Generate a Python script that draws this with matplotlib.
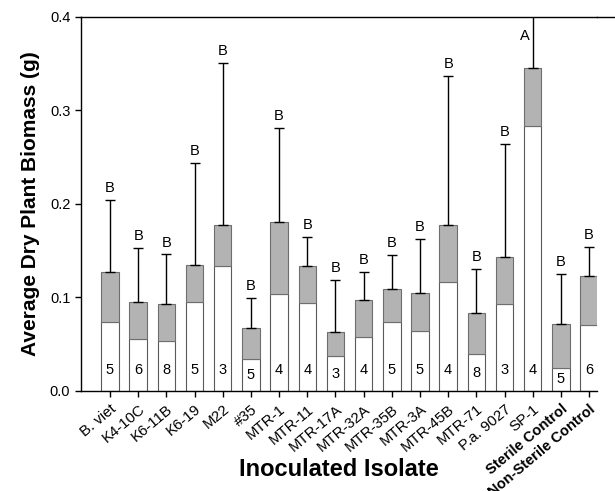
import numpy as np
import matplotlib
matplotlib.use('Agg')
import matplotlib.pyplot as plt
from matplotlib.transforms import ScaledTranslation

plt.rcParams['font.family'] = ['Liberation Sans', 'DejaVu Sans']

isolates = ['B. viet', 'K4-10C', 'K6-11B', 'K6-19', 'M22', '#35', 'MTR-1', 'MTR-11',
            'MTR-17A', 'MTR-32A', 'MTR-35B', 'MTR-3A', 'MTR-45B', 'MTR-71', 'P.a. 9027',
            'SP-1', 'Sterile Control', 'Non-Sterile Control']
# lower (white) part of bar and the full bar height
lower = [0.0735, 0.0553, 0.0538, 0.0949, 0.1333, 0.0342, 0.104, 0.0941,
         0.0371, 0.0574, 0.0734, 0.0638, 0.1162, 0.0392, 0.0927,
         0.2834, 0.0249, 0.0706]
total = [0.127, 0.0949, 0.0927, 0.1348, 0.1775, 0.067, 0.1804, 0.134,
         0.0634, 0.0977, 0.1094, 0.1045, 0.1772, 0.0831, 0.143,
         0.3451, 0.0717, 0.123]
err_top = [0.204, 0.1526, 0.146, 0.2435, 0.351, 0.0998, 0.2816, 0.1647,
           0.119, 0.1273, 0.1455, 0.1622, 0.3365, 0.1308, 0.2638,
           0.46, 0.1255, 0.1537]
letters = ['B'] * 15 + ['A', 'B', 'B']
counts = [5, 6, 8, 5, 3, 5, 4, 4, 3, 4, 5, 5, 4, 8, 3, 4, 5, 6]
bold_labels = ['Sterile Control', 'Non-Sterile Control']

lower = np.array(lower)
total = np.array(total)
err_top = np.array(err_top)
x = np.arange(len(isolates))
ymax = 0.4

fig = plt.figure(figsize=(6.15, 4.91), dpi=100)
ax = fig.add_axes([0.1312, 0.2037, 0.8395, 0.7617])

ax.bar(x, lower, width=0.62, color='white', edgecolor='#5a5a5a', linewidth=0.8, zorder=2)
ax.bar(x, total - lower, bottom=lower, width=0.62, color='#b3b3b3',
       edgecolor='#6e6e6e', linewidth=0.8, zorder=2)
ax.errorbar(x, total, yerr=[np.zeros_like(total), err_top - total], fmt='none',
            ecolor='black', elinewidth=1.0, capsize=3.3, capthick=1.0, zorder=3)

for i in range(len(x)):
    if err_top[i] < ymax:
        ax.annotate(letters[i], (x[i], err_top[i]), xytext=(0, 3.5), textcoords='offset points',
                    ha='center', va='bottom', fontsize=10.5)
    else:
        ax.annotate(letters[i], (x[i], ymax), xytext=(-6, -14), textcoords='offset points',
                    ha='center', va='center', fontsize=10.5)
    ax.text(x[i], min(0.022, lower[i] / 2), str(counts[i]), ha='center', va='center',
            fontsize=10.5, zorder=4)

ax.set_xlim(-1.04, 17.28)
ax.set_ylim(0, ymax)
ax.set_yticks([0.0, 0.1, 0.2, 0.3, 0.4])
ax.set_yticklabels(['0.0', '0.1', '0.2', '0.3', '0.4'], fontsize=10.5)
ax.set_xticks(x)
ax.set_xticklabels(isolates, rotation=40, ha='right', rotation_mode='anchor', fontsize=10.8)
shift = ScaledTranslation(6 / 100, 1 / 100, fig.dpi_scale_trans)
for lab in ax.get_xticklabels():
    if lab.get_text() in bold_labels:
        lab.set_fontweight('bold')
        lab.set_fontsize(10.5)
        lab.set_transform(lab.get_transform() + shift)
ax.tick_params(direction='out', length=4, width=1)
ax.tick_params(axis='x', pad=4)

ax.spines['right'].set_visible(False)
for s in ['left', 'bottom', 'top']:
    ax.spines[s].set_linewidth(1.0)
# top frame line continues to the figure edge
ax.plot([17.28, 18.0], [ymax, ymax], color='black', lw=1.0, clip_on=False)

ax.set_ylabel('Average Dry Plant Biomass (g)', fontsize=15, fontweight='bold', labelpad=7)
ax.set_xlabel('Inoculated Isolate', fontsize=17, fontweight='bold', va='center')
ax.xaxis.set_label_coords(0.5, -0.211)

fig.savefig('out.png', dpi=100)
